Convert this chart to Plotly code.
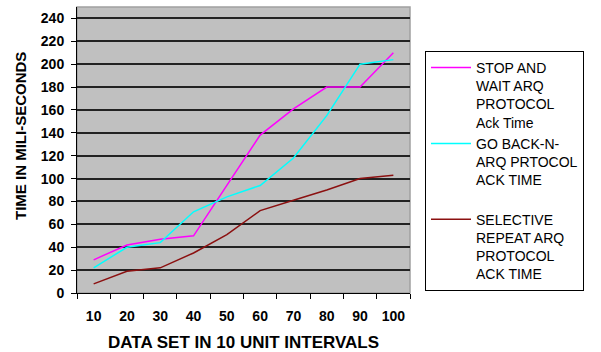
import plotly.graph_objects as go

categories = ["10", "20", "30", "40", "50", "60", "70", "80", "90", "100"]
stop_and_wait = [29, 42, 47, 50, 94, 138, 161, 180, 180, 210]
go_back_n = [22, 40, 44, 71, 84, 94, 118, 155, 200, 204]
selective_repeat = [8, 19, 22, 35, 51, 72, 81, 90, 100, 103]

series_names = [
    "STOP AND<br>WAIT ARQ<br>PROTOCOL<br>Ack Time",
    "GO BACK-N-<br>ARQ PRTOCOL<br>ACK TIME<br> ",
    "SELECTIVE<br>REPEAT ARQ<br>PROTOCOL<br>ACK TIME",
]
series_colors = ["#ff00ff", "#00ffff", "#8b1010"]
y_ticks = list(range(0, 241, 20))

fig = go.Figure()
for name, vals, col in zip(series_names, [stop_and_wait, go_back_n, selective_repeat], series_colors):
    fig.add_trace(go.Scatter(x=categories, y=vals, mode="lines", name=name,
                             line=dict(color=col, width=1.5)))

L, R, T, B = 77, 191, 7, 59
fig.update_layout(
    width=601, height=352,
    margin=dict(l=L, r=R, t=T, b=B),
    paper_bgcolor="white",
    plot_bgcolor="#c0c0c0",
    showlegend=True,
    legend=dict(
        x=(425 - L) / (601 - L - R), y=(293 - 51) / (352 - T - B),
        xanchor="left", yanchor="top",
        bgcolor="white", bordercolor="black", borderwidth=1,
        font=dict(family="Liberation Sans, Arial", size=14, color="black"),
        valign="top", tracegroupgap=0, itemwidth=40,
        entrywidth=125, entrywidthmode="pixels",
    ),
    font=dict(family="Liberation Sans, Arial", color="black"),
)

fig.update_xaxes(
    type="category", range=[-0.5, 9.5],
    tickson="boundaries", ticks="outside", ticklen=5, tickcolor="black", tickwidth=1,
    showline=True, linecolor="black", linewidth=1,
    showgrid=False, zeroline=False,
    tickfont=dict(family="Liberation Sans, Arial", size=14, color="black", weight="bold"),
    ticklabelstandoff=10,
)
fig.update_yaxes(
    range=[0, 250], tickvals=y_ticks, ticktext=[str(v) for v in y_ticks],
    ticks="outside", ticklen=5, tickcolor="black", tickwidth=1,
    showline=True, linecolor="black", linewidth=1,
    showgrid=True, gridcolor="#222222", gridwidth=2,
    zeroline=False,
    tickfont=dict(family="Liberation Sans, Arial", size=14, color="black", weight="bold"),
    ticklabelstandoff=4,
)

# light gray plot border (top/right)
fig.add_shape(type="rect", xref="paper", yref="paper", x0=0, y0=0, x1=1, y1=1,
              line=dict(color="#a0a0a0", width=1.5), layer="below")

fig.add_annotation(text="TIME IN MILI-SECONDS", xref="paper", yref="paper",
                   x=(20 - L) / (601 - L - R), y=(293 - 136) / (352 - T - B),
                   xanchor="center", yanchor="middle", textangle=-90, showarrow=False,
                   font=dict(family="Liberation Sans, Arial", size=15, color="black", weight="bold"))
fig.add_annotation(text="DATA SET IN 10 UNIT INTERVALS", xref="paper", yref="paper",
                   x=0.5, y=(293 - 342) / (352 - T - B),
                   xanchor="center", yanchor="middle", showarrow=False,
                   font=dict(family="Liberation Sans, Arial", size=17, color="black", weight="bold"))

fig.write_html("out.html")
